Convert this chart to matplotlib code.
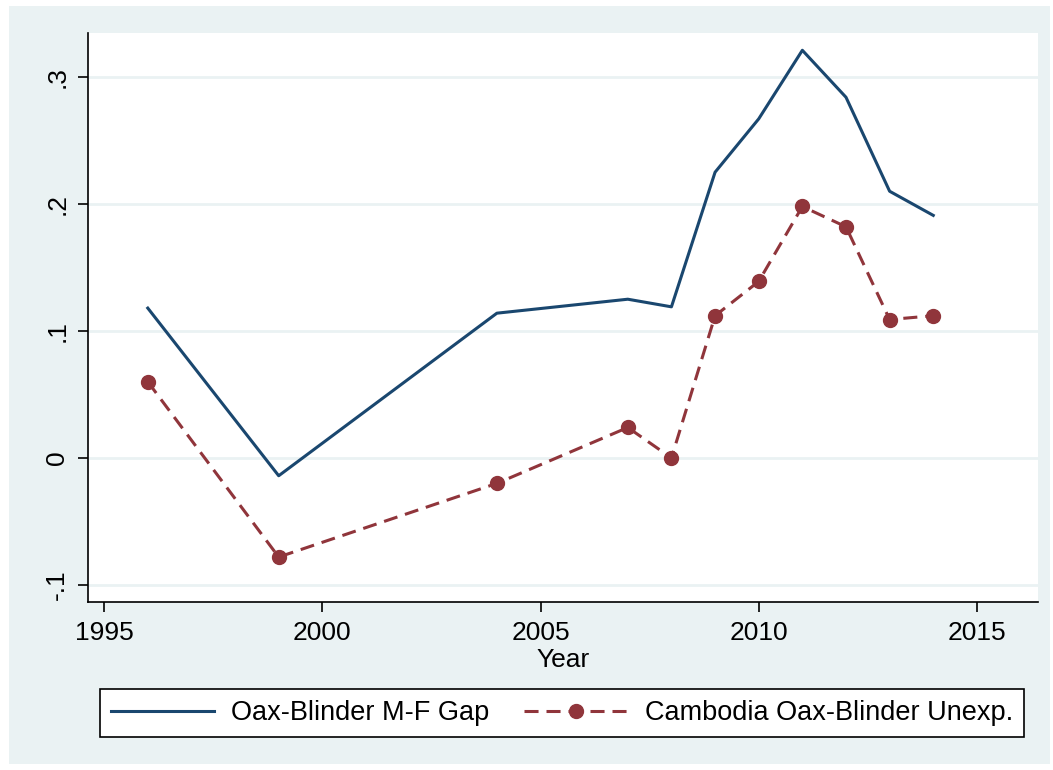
import matplotlib.pyplot as plt
from matplotlib.patches import Rectangle

plt.rcParams['font.family'] = ['Liberation Sans', 'DejaVu Sans']

years = [1996, 1999, 2004, 2007, 2008, 2009, 2010, 2011, 2012, 2013, 2014]
gap = [0.118, -0.014, 0.114, 0.125, 0.119, 0.225, 0.267, 0.321, 0.284, 0.210, 0.191]
unexp = [0.060, -0.078, -0.020, 0.024, 0.000, 0.112, 0.139, 0.198, 0.182, 0.109, 0.112]

x_ticks = [1995, 2000, 2005, 2010, 2015]
y_ticks = [-0.1, 0, 0.1, 0.2, 0.3]
y_tick_labels = ['-.1', '0', '.1', '.2', '.3']

BG = '#EAF2F3'
BLUE = '#1A476F'
RED = '#90353B'

W, H = 1053, 770
fig = plt.figure(figsize=(W / 100, H / 100), dpi=100)
fig.patch.set_facecolor('white')
fig.patches.append(Rectangle((9 / W, 1 - 764 / H), 1041 / W, 758 / H,
                             transform=fig.transFigure, facecolor=BG,
                             edgecolor='none', zorder=-10))

ax = fig.add_axes([88 / W, 1 - 602 / H, 950 / W, 569 / H])
ax.set_zorder(1)
ax.set_facecolor('white')

ax.plot(years, gap, color=BLUE, linewidth=2.2, label='Oax-Blinder M-F Gap')
ax.plot(years, unexp, color=RED, linewidth=2.2, linestyle=(0, (4.6, 2.6)),
        marker='o', markersize=10, label='Cambodia Oax-Blinder Unexp.')

ax.set_xlim(1994.63, 2016.4)
ax.set_ylim(-0.1134, 0.3346)
ax.set_xticks(x_ticks)
ax.set_yticks(y_ticks)
ax.set_yticklabels(y_tick_labels, rotation=90, va='center')
ax.tick_params(axis='both', direction='out', length=7.5, width=1.2,
               labelsize=19, colors='black', pad=6)
ax.grid(True, axis='y', color=BG, linewidth=2)
ax.set_axisbelow(True)
for side in ['top', 'right']:
    ax.spines[side].set_visible(False)
for side in ['left', 'bottom']:
    ax.spines[side].set_linewidth(1.2)
ax.set_xlabel('Year', fontsize=19, labelpad=2.5)

leg = fig.legend(loc='lower left', ncol=2, mode='expand',
                 bbox_to_anchor=(100 / W, 1 - 737 / H, 924 / W, 51 / H),
                 fontsize=19.5, frameon=True, fancybox=False, edgecolor='black',
                 framealpha=1, handlelength=3.8, handletextpad=0.65,
                 borderaxespad=0, columnspacing=1.5)
leg.get_frame().set_linewidth(1.2)

fig.savefig('out.png', dpi=100)
